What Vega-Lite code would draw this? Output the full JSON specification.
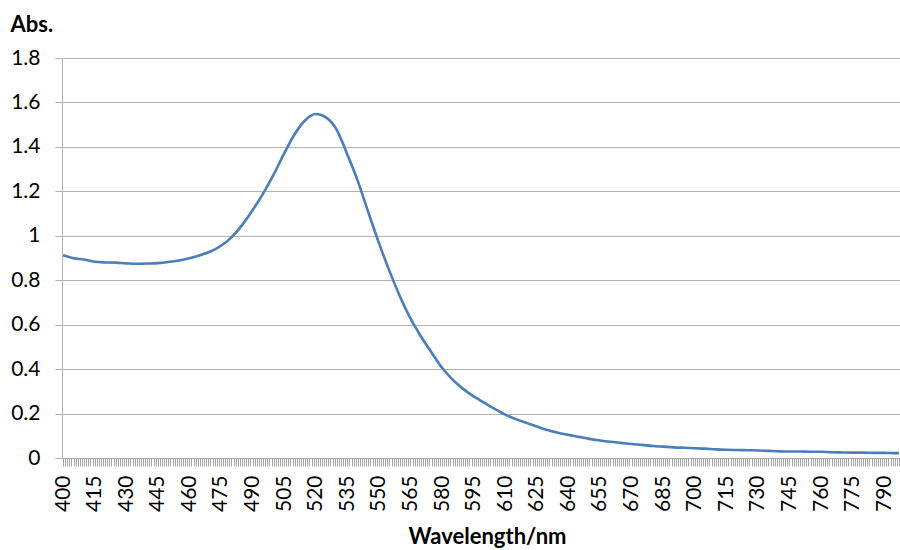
{
  "$schema": "https://vega.github.io/schema/vega-lite/v6.json",
  "width": 838,
  "height": 400,
  "autosize": {"type": "none"},
  "padding": {"left": 62, "top": 58, "right": 0, "bottom": 92},
  "background": "white",
  "config": {"view": {"stroke": null}, "font": "Lato"},
  "data": {"values": [
    {"nm": 400, "abs": 0.912}, {"nm": 405, "abs": 0.899}, {"nm": 410, "abs": 0.893}, {"nm": 415, "abs": 0.883},
    {"nm": 420, "abs": 0.880}, {"nm": 425, "abs": 0.879}, {"nm": 430, "abs": 0.876}, {"nm": 435, "abs": 0.874},
    {"nm": 440, "abs": 0.875}, {"nm": 445, "abs": 0.877}, {"nm": 450, "abs": 0.882}, {"nm": 455, "abs": 0.889},
    {"nm": 460, "abs": 0.899}, {"nm": 465, "abs": 0.912}, {"nm": 470, "abs": 0.929}, {"nm": 475, "abs": 0.955},
    {"nm": 480, "abs": 0.993}, {"nm": 485, "abs": 1.048}, {"nm": 490, "abs": 1.115}, {"nm": 495, "abs": 1.190},
    {"nm": 500, "abs": 1.275}, {"nm": 505, "abs": 1.370}, {"nm": 510, "abs": 1.457}, {"nm": 515, "abs": 1.520},
    {"nm": 520, "abs": 1.548}, {"nm": 525, "abs": 1.532}, {"nm": 530, "abs": 1.477}, {"nm": 535, "abs": 1.366},
    {"nm": 540, "abs": 1.246}, {"nm": 545, "abs": 1.105}, {"nm": 550, "abs": 0.968}, {"nm": 555, "abs": 0.842},
    {"nm": 560, "abs": 0.727}, {"nm": 565, "abs": 0.628}, {"nm": 570, "abs": 0.547}, {"nm": 575, "abs": 0.475},
    {"nm": 580, "abs": 0.406}, {"nm": 585, "abs": 0.353}, {"nm": 590, "abs": 0.311}, {"nm": 595, "abs": 0.277},
    {"nm": 600, "abs": 0.249}, {"nm": 605, "abs": 0.221}, {"nm": 610, "abs": 0.195}, {"nm": 615, "abs": 0.175},
    {"nm": 620, "abs": 0.158}, {"nm": 625, "abs": 0.142}, {"nm": 630, "abs": 0.126}, {"nm": 635, "abs": 0.114},
    {"nm": 640, "abs": 0.104}, {"nm": 645, "abs": 0.095}, {"nm": 650, "abs": 0.086}, {"nm": 655, "abs": 0.079},
    {"nm": 660, "abs": 0.073}, {"nm": 665, "abs": 0.068}, {"nm": 670, "abs": 0.063}, {"nm": 675, "abs": 0.059},
    {"nm": 680, "abs": 0.054}, {"nm": 685, "abs": 0.051}, {"nm": 690, "abs": 0.048}, {"nm": 695, "abs": 0.046},
    {"nm": 700, "abs": 0.044}, {"nm": 705, "abs": 0.042}, {"nm": 710, "abs": 0.039}, {"nm": 715, "abs": 0.037},
    {"nm": 720, "abs": 0.036}, {"nm": 725, "abs": 0.035}, {"nm": 730, "abs": 0.034}, {"nm": 735, "abs": 0.032},
    {"nm": 740, "abs": 0.030}, {"nm": 745, "abs": 0.029}, {"nm": 750, "abs": 0.029}, {"nm": 755, "abs": 0.028},
    {"nm": 760, "abs": 0.028}, {"nm": 765, "abs": 0.026}, {"nm": 770, "abs": 0.025}, {"nm": 775, "abs": 0.024},
    {"nm": 780, "abs": 0.024}, {"nm": 785, "abs": 0.023}, {"nm": 790, "abs": 0.023}, {"nm": 795, "abs": 0.022},
    {"nm": 797, "abs": 0.022}
  ]},
  "mark": {"type": "line", "color": "#4a7ebb", "strokeWidth": 2.6, "interpolate": "monotone"},
  "encoding": {
    "x": {
      "field": "nm",
      "type": "quantitative",
      "scale": {"domain": [399.5, 797.5], "nice": false, "zero": false},
      "axis": {
        "title": "Wavelength/nm",
        "titleFont": "Lato",
        "titleFontSize": 22,
        "titleFontWeight": "bold",
        "titleColor": "#000000",
        "titleX": 425,
        "titleY": 85,
        "titleBaseline": "alphabetic",
        "titleAnchor": "middle",
        "tickCount": 400,
        "labelExpr": "datum.value % 15 === 10 ? datum.label : ''",
        "format": "d",
        "labelOverlap": false,
        "labelFlush": false,
        "labelAngle": -90,
        "labelAlign": "right",
        "labelBaseline": "middle",
        "labelPadding": 9,
        "labelFont": "Lato",
        "labelFontSize": 21,
        "labelColor": "#000000",
        "tickSize": 8,
        "tickColor": "#a6a6a6",
        "tickWidth": 1,
        "domainColor": "#a6a6a6",
        "grid": false
      }
    },
    "y": {
      "field": "abs",
      "type": "quantitative",
      "scale": {"domain": [0, 1.8], "nice": false},
      "axis": {
        "title": "Abs.",
        "titleFont": "Lato",
        "titleFontSize": 22,
        "titleFontWeight": "bold",
        "titleColor": "#000000",
        "titleAngle": 0,
        "titleAlign": "left",
        "titleBaseline": "alphabetic",
        "titleX": -52,
        "titleY": -27,
        "values": [0, 0.2, 0.4, 0.6, 0.8, 1, 1.2, 1.4, 1.6, 1.8],
        "format": ".2~f",
        "labelFont": "Lato",
        "labelFontSize": 21,
        "labelColor": "#000000",
        "labelPadding": 15,
        "tickSize": 7,
        "tickColor": "#b3b3b3",
        "domainColor": "#b3b3b3",
        "gridColor": "#b3b3b3",
        "grid": true
      }
    }
  }
}
